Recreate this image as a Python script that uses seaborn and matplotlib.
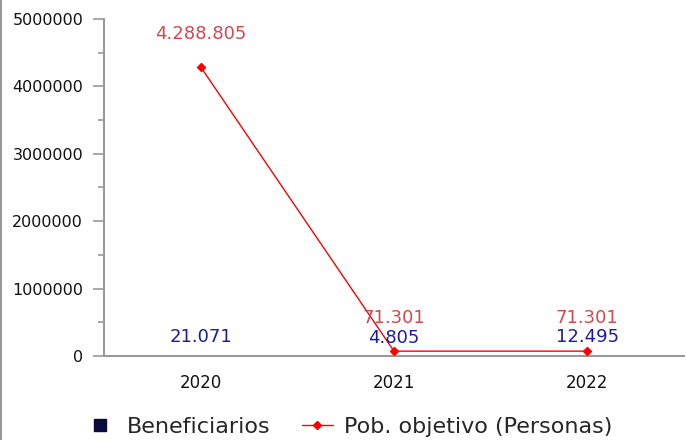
import numpy as np
import pandas as pd
import seaborn as sns
import matplotlib
matplotlib.use('Agg')
import matplotlib.pyplot as plt
from matplotlib.lines import Line2D
from matplotlib.ticker import MultipleLocator

years = ['2020', '2021', '2022']
beneficiarios = [21071, 4805, 12495]
pob_objetivo = [4288805, 71301, 71301]

bar_color = '#0a0a3c'
line_color = '#ff0000'
red_text = '#d6474f'
blue_text = '#1c1c9c'
axis_gray = '#9a9a9a'


def fmt(v):
    return '{:,}'.format(v).replace(',', '.')


sns.set_style('white')
plt.rcParams['font.family'] = ['DejaVu Sans']

fig = plt.figure(figsize=(6.86, 4.40), dpi=100)
ax = fig.add_axes([0.1516, 0.191, 0.8454, 0.766])

df = pd.DataFrame({'year': years, 'beneficiarios': beneficiarios, 'pob': pob_objetivo})

sns.barplot(data=df, x='year', y='beneficiarios', color=bar_color, width=0.5,
            saturation=1, ax=ax, zorder=2)
ax.plot(range(len(years)), df['pob'], color=line_color, lw=1.0, marker='D',
        markersize=4, zorder=3)

for i, (b, p) in enumerate(zip(beneficiarios, pob_objetivo)):
    ax.annotate(fmt(b), (i, b), xytext=(0, 6.5), textcoords='offset points',
                ha='center', va='bottom', color=blue_text, fontsize=13)
    ax.annotate(fmt(p), (i, p), xytext=(0, 17.5), textcoords='offset points',
                ha='center', va='bottom', color=red_text, fontsize=13)

ax.set_xlim(-0.5, 2.5)
ax.set_ylim(0, 5000000)
ax.yaxis.set_major_locator(MultipleLocator(1000000))
ax.yaxis.set_minor_locator(MultipleLocator(500000))
ax.ticklabel_format(axis='y', style='plain')
ax.set_xlabel('')
ax.set_ylabel('')

for s in ['top', 'right']:
    ax.spines[s].set_visible(False)
for s in ['left', 'bottom']:
    ax.spines[s].set_color(axis_gray)
    ax.spines[s].set_linewidth(1.5)

ax.tick_params(axis='y', which='major', length=8, width=1.2, color=axis_gray,
               labelsize=11.5, pad=7, labelcolor='#111111', left=True)
ax.tick_params(axis='y', which='minor', length=4, width=1.2, color=axis_gray, left=True)
ax.tick_params(axis='x', length=0, pad=13, labelsize=12, labelcolor='#111111')

handles = [Line2D([], [], color=bar_color, marker='s', markersize=9, lw=0),
           Line2D([], [], color=line_color, marker='D', markersize=4, lw=1.0)]
fig.legend(handles, ['Beneficiarios', 'Pob. objetivo (Personas)'], loc='center',
           bbox_to_anchor=(0.508, 0.029), ncol=2, frameon=False, fontsize=16,
           handlelength=1.4, handletextpad=0.5, columnspacing=1.4)

fig.add_artist(Line2D([0.002, 0.002], [0, 1], transform=fig.transFigure,
                      color=axis_gray, lw=1.5))

fig.savefig('out.png', dpi=100)
